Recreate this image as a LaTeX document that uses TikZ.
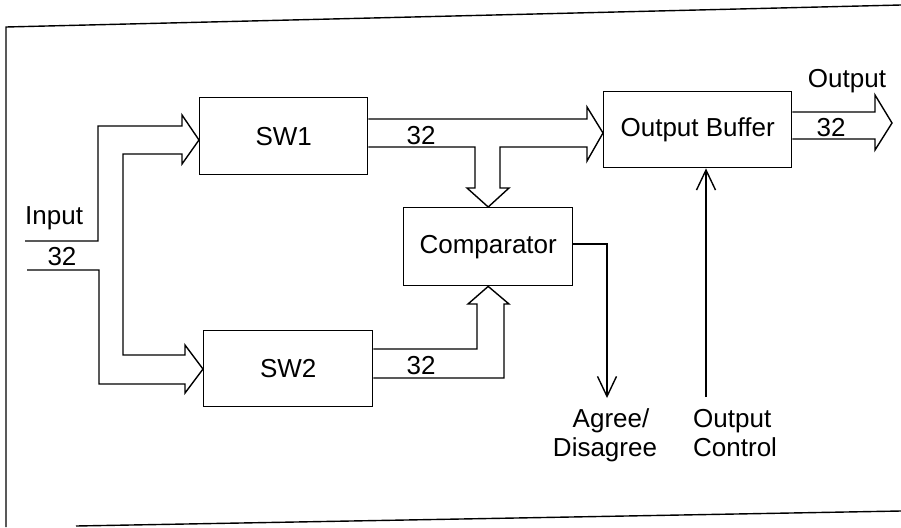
\documentclass[tikz,border=0pt]{standalone}
\usepackage{fontspec}
\setmainfont{Liberation Sans}
\usetikzlibrary{arrows.meta}
\tikzset{
  ln/.style={line width=1.4pt, line join=miter, line cap=butt},
  box/.style={draw, line width=1.4pt, inner sep=0pt, anchor=north west, font=\fontsize{26}{30}\selectfont},
  lbl/.style={inner sep=0pt, font=\fontsize{26}{30}\selectfont},
  vhead/.style={-{Straight Barb[length=20pt,width=19pt]}},
}
\begin{document}
\begin{tikzpicture}[x=1pt,y=-1pt]
\useasboundingbox (0,0) rectangle (901,527);
% frame
\draw[ln] (6,527) -- (6,27) -- (901,5);
\draw[ln] (76,526) -- (901,511);
% boxes
\node[box, minimum width=168pt, minimum height=77pt] (sw1) at (199,97) {SW1};
\node[box, minimum width=169pt, minimum height=76pt] (sw2) at (203,330) {SW2};
\node[box, minimum width=169pt, minimum height=78pt] (cmp) at (403,207) {Comparator};
\node[box, minimum width=188pt, minimum height=76pt] (obuf) at (603,91) {Output Buffer};
% free ends
\coordinate (inA) at (25,241);
\coordinate (inB) at (27,270);
\coordinate (agtip) at (607,398);
\coordinate (ocst) at (706,397);
% input bus
\draw[ln] (inA) -- (98,241) -- (98,126) -- (182,126) -- (182,115) -- (sw1.west |- 0,140)
  -- (182,164) -- (182,154) -- (123,154) -- (123,355) -- (185,355) -- (185,345)
  -- (sw2.west |- 0,369) -- (185,393) -- (185,384) -- (99,384) -- (99,270) -- (inB);
% SW1 output bus
\draw[ln] (sw1.east |- 0,119) -- (587,119) -- (587,107) -- (obuf.west |- 0,133)
  -- (587,161) -- (587,147) -- (500,147) -- (500,188) -- (509,188) -- (cmp.north)
  -- (467,188) -- (475,188) -- (475,147) -- (sw1.east |- 0,147);
% SW2 output bus
\draw[ln] (sw2.east |- 0,349) -- (477,349) -- (477,304) -- (468,304) -- (cmp.south)
  -- (509,304) -- (504,304) -- (504,378) -- (sw2.east |- 0,378);
% output bus
\draw[ln] (obuf.east |- 0,112) -- (875,112) -- (875,95) -- (892,123) -- (875,150)
  -- (875,139) -- (obuf.east |- 0,139);
% comparator result
\draw[ln, vhead] (cmp.east |- 0,244) -- (607,244) -- (agtip);
% output control
\draw[ln, vhead] (ocst) -- (obuf.south -| ocst);
% labels
\node[lbl, anchor=base west] (tin) at (25,224) {Input};
\node[lbl, anchor=base] (t32a) at (62,265) {32};
\node[lbl, anchor=base] (t32b) at (421,144) {32};
\node[lbl, anchor=base] (t32c) at (421,374) {32};
\node[lbl, anchor=base] (t32d) at (831,136) {32};
\node[lbl, anchor=base] (tout) at (847,87) {Output};
\node[lbl, anchor=base] (tag1) at (611,427) {Agree/};
\node[lbl, anchor=base] (tag2) at (605,456) {Disagree};
\node[lbl, anchor=base west] (toc1) at (693,427) {Output};
\node[lbl, anchor=base west] (toc2) at (693,456) {Control};
\end{tikzpicture}
\end{document}
